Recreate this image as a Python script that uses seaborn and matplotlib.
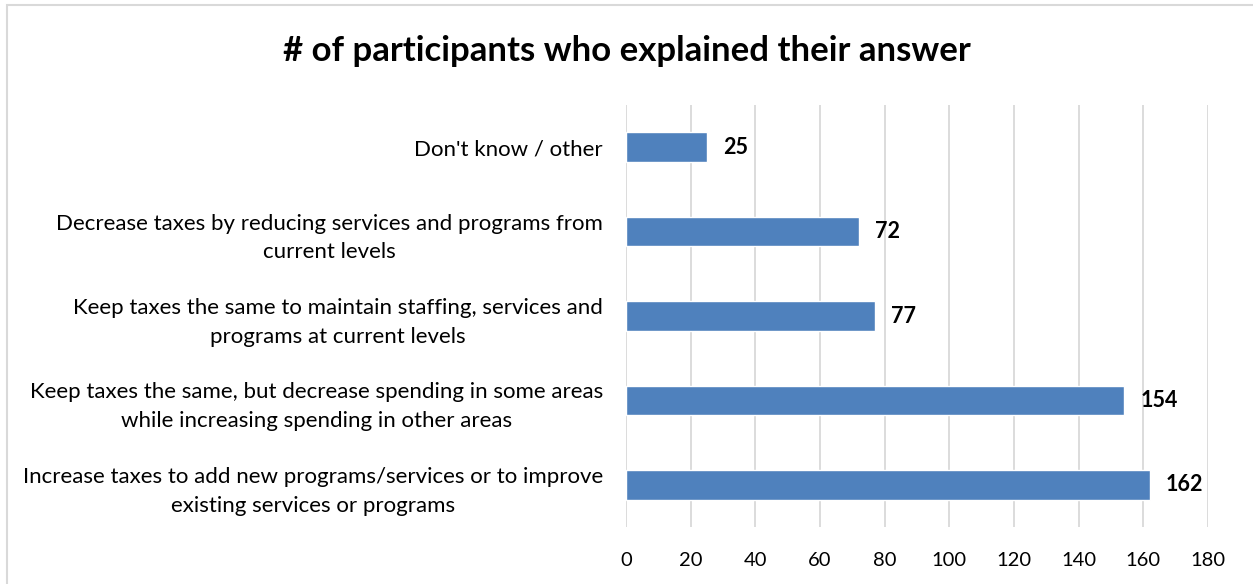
import matplotlib
matplotlib.use("Agg")
import matplotlib.pyplot as plt
import seaborn as sns
import pandas as pd
from matplotlib.patches import Rectangle

categories = [
    "Don't know / other",
    "Decrease taxes by reducing services and programs from\ncurrent levels",
    "Keep taxes the same to maintain staffing, services and\nprograms at current levels",
    "Keep taxes the same, but decrease spending in some areas\nwhile increasing spending in other areas",
    "Increase taxes to add new programs/services or to improve\nexisting services or programs",
]
values = [25, 72, 77, 154, 162]
x_ticks = [0, 20, 40, 60, 80, 100, 120, 140, 160, 180]
title = "# of participants who explained their answer"

sns.set_theme(style="white")
plt.rcParams["font.family"] = ["Lato", "DejaVu Sans"]

df = pd.DataFrame({"category": categories, "value": values})

fig = plt.figure(figsize=(12.53, 5.84), dpi=100)
ax = fig.add_axes([0.4996, 0.0976, 0.4645, 0.7226])

sns.barplot(data=df, y="category", x="value", orient="h", color="#4F81BD",
            width=0.35, saturation=1, ax=ax, order=categories)

ax.set_xlim(0, 180)
ax.set_ylim(4.5, -0.5)
ax.set_xticks(x_ticks)
ax.set_xticklabels([str(t) for t in x_ticks], fontsize=14.5, color="#000000")
ax.tick_params(axis="x", length=0, pad=18)
ax.tick_params(axis="y", length=0, pad=16.5)
for lbl in ax.get_yticklabels():
    lbl.set_multialignment("center")
    lbl.set_fontsize(16)
    lbl.set_linespacing(1.55)
    lbl.set_color("#000000")
ax.set_xlabel("")
ax.set_ylabel("")
ax.grid(axis="x", color="#D9D9D9", linewidth=1.3)
ax.grid(axis="y", visible=False)
ax.set_axisbelow(True)
for s in ax.spines.values():
    s.set_visible(False)

for i, v in enumerate(values):
    ax.text(v + 5, i, str(v), va="center", ha="left", fontsize=15.5,
            fontweight="bold", color="#000000")

fig.text(0.5, 0.913, title, ha="center", va="center", fontsize=25,
         fontweight="bold", color="#000000")

fig.patches.append(Rectangle((7 / 1253, -0.01), 1.2, 1 - 5 / 584 + 0.01,
                             transform=fig.transFigure, fill=False,
                             edgecolor="#D9D9D9", linewidth=1.5))

fig.savefig("out.png", dpi=100)
